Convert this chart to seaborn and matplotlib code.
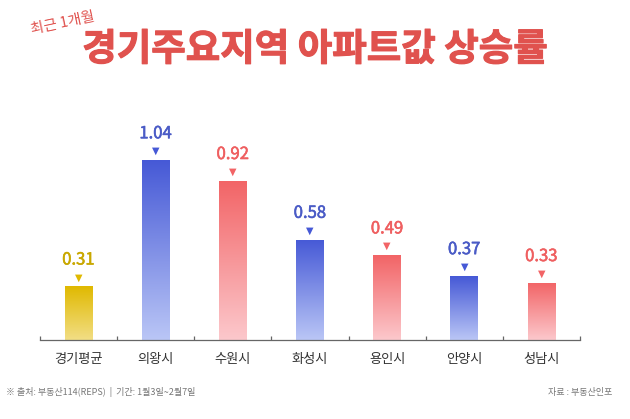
import numpy as np
import pandas as pd
import matplotlib
matplotlib.use("Agg")
import matplotlib.pyplot as plt
import matplotlib.patheffects as pe
import seaborn as sns
from matplotlib.colors import LinearSegmentedColormap

# data
regions = ["경기평균", "의왕시", "수원시", "화성시", "용인시", "안양시", "성남시"]
rates = [0.31, 1.04, 0.92, 0.58, 0.49, 0.37, 0.33]
groups = ["avg", "blue", "red", "blue", "red", "blue", "red"]

# (top colour, bottom colour, label colour) per group
palette = {
    "avg": ("#E0B900", "#F2DE85", "#C9A800"),
    "blue": ("#4659D6", "#BAC6F6", "#4A5BC6"),
    "red": ("#F26466", "#FCC8CC", "#EF5F60"),
}

sns.set_theme(style="white")
plt.rcParams["font.family"] = ["Noto Sans CJK KR", "DejaVu Sans"]

df = pd.DataFrame({"region": regions, "rate": rates, "group": groups})

fig = plt.figure(figsize=(6.3, 4.19), dpi=100)
ax = fig.add_axes([40 / 630, 79 / 419, 540 / 630, 230 / 419])

sns.barplot(data=df, x="region", y="rate", hue="group", dodge=False,
            palette={k: v[0] for k, v in palette.items()}, width=0.36,
            legend=False, ax=ax)

ax.set_xlim(-0.5, len(regions) - 0.5)
ax.set_ylim(0, 1.33)

# gradient fill clipped to each bar
for bar in ax.patches:
    x0, y0 = bar.get_x(), bar.get_y()
    w, h = bar.get_width(), bar.get_height()
    if h <= 0:
        continue
    idx = int(round(x0 + w / 2))
    top, bottom, _ = palette[groups[idx]]
    cmap = LinearSegmentedColormap.from_list("g", [bottom, top])
    grad = np.linspace(0, 1, 256).reshape(-1, 1)
    im = ax.imshow(grad, cmap=cmap, aspect="auto", origin="lower",
                   extent=[x0, x0 + w, y0, y0 + h], zorder=bar.get_zorder())
    im.set_clip_path(bar)
    bar.set_facecolor("none")
    bar.set_edgecolor("none")

ax.set_xlim(-0.5, len(regions) - 0.5)
ax.set_ylim(0, 1.33)

# value labels with little triangle markers
for i, (v, g) in enumerate(zip(rates, groups)):
    top, _, lab = palette[g]
    ax.annotate("▼", (i, v), xytext=(0, 6.5), textcoords="offset points",
                ha="center", va="center", fontsize=7, color=top,
                family=["DejaVu Sans"])
    ax.annotate(f"{v:.2f}", (i, v), xytext=(0, 19), textcoords="offset points",
                ha="center", va="center", fontsize=12, color=lab,
                fontweight="medium",
                path_effects=[pe.withStroke(linewidth=0.4, foreground=lab)])

for s in ["left", "right", "top"]:
    ax.spines[s].set_visible(False)
ax.spines["bottom"].set_color("#666666")
ax.spines["bottom"].set_linewidth(0.9)
ax.set_yticks([])
ax.set_xlabel("")
ax.set_ylabel("")
ax.set_xticks(np.arange(-0.5, len(regions)), minor=True)
ax.tick_params(axis="x", which="minor", direction="in", length=3,
               width=0.9, color="#666666", bottom=True)
ax.tick_params(axis="x", which="major", length=0, pad=9,
               labelsize=9.5, labelcolor="#333333")

# titles
fig.text(0.5, 1 - 49 / 419, "경기주요지역 아파트값 상승률", ha="center",
         va="center", fontsize=27, fontweight="bold", color="#E0524E",
         path_effects=[pe.withStroke(linewidth=0.8, foreground="#E0524E")])
fig.text(30 / 630, 1 - 23 / 419, "최근 1개월", ha="left", va="center",
         fontsize=10.5, color="#E0524E", rotation=12)

# footer
fig.text(6 / 630, 1 - 392 / 419, "※ 출처: 부동산114(REPS)  |  기간: 1월3일~2월7일",
         ha="left", va="center", fontsize=6.5, color="#777777")
fig.text(612 / 630, 1 - 392 / 419, "자료 : 부동산인포", ha="right",
         va="center", fontsize=6.5, color="#777777")

fig.savefig("out.png", dpi=100)
